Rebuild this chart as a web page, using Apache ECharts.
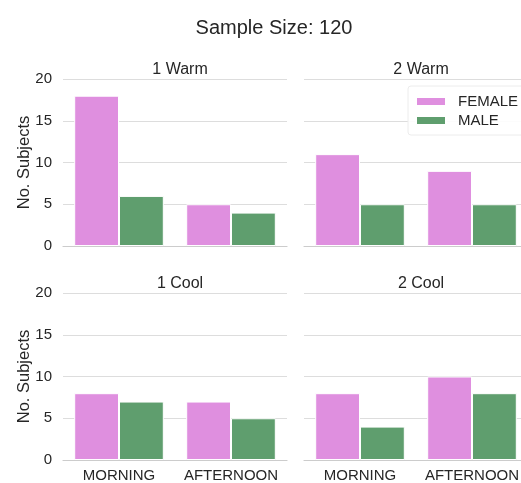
<!DOCTYPE html>
<html>
<head>
<meta charset="utf-8">
<script src="https://cdn.jsdelivr.net/npm/echarts@6/dist/echarts.min.js"></script>
<style>
html,body{margin:0;padding:0;background:#fff;}
#chart{width:521px;height:483px;}
</style>
</head>
<body>
<div id="chart"></div>
<script>
const categories = ['MORNING', 'AFTERNOON'];
const panels = ['1 Warm', '2 Warm', '1 Cool', '2 Cool'];
const female_1Warm = [18, 5];
const male_1Warm = [6, 4];
const female_2Warm = [11, 9];
const male_2Warm = [5, 5];
const female_1Cool = [8, 7];
const male_1Cool = [7, 5];
const female_2Cool = [8, 10];
const male_2Cool = [4, 8];
const yTicks = [0, 5, 10, 15, 20];

const femaleData = [female_1Warm, female_2Warm, female_1Cool, female_2Cool];
const maleData = [male_1Warm, male_2Warm, male_1Cool, male_2Cool];

const FONT = "'Liberation Sans', Arial, sans-serif";
const TXT = '#262626';
const PINK = '#df8fdf';
const GREEN = '#5f9e6e';

const gridPos = [
  {left: 63, top: 79}, {left: 304, top: 79},
  {left: 63, top: 293}, {left: 304, top: 293}
];
const W = 224, H = 167;

const chart = echarts.init(document.getElementById('chart'), null, {renderer: 'canvas'});

const grids = gridPos.map(p => ({left: p.left, top: p.top, width: W, height: H,
  containLabel: false, outerBoundsMode: 'none'}));
const xAxes = gridPos.map((p, i) => ({
  type: 'category', gridIndex: i, data: categories,
  axisTick: {show: false},
  axisLine: {show: true, lineStyle: {color: '#cccccc', width: 1.2}},
  axisLabel: {show: i >= 2, interval: 0, color: TXT, fontFamily: FONT, fontSize: 15, margin: 8}
}));
const yAxes = gridPos.map((p, i) => ({
  type: 'value', gridIndex: i, min: yTicks[0], max: yTicks[yTicks.length - 1], interval: 5,
  axisLine: {show: false}, axisTick: {show: false},
  splitLine: {show: true, lineStyle: {color: '#dddddd', width: 1}},
  axisLabel: {show: i % 2 === 0, color: TXT, fontFamily: FONT, fontSize: 15, margin: 11},
  name: i % 2 === 0 ? 'No. Subjects' : '',
  nameLocation: 'middle', nameGap: 30, nameMoveOverlap: false,
  nameTextStyle: {color: TXT, fontFamily: FONT, fontSize: 16.5}
}));

const series = [];
for (let i = 0; i < 4; i++) {
  series.push({
    name: 'FEMALE', type: 'bar', xAxisIndex: i, yAxisIndex: i, data: femaleData[i],
    barWidth: '40%', barGap: '0%',
    itemStyle: {color: PINK, borderColor: '#ffffff', borderWidth: 1},
    emphasis: {disabled: true}
  });
  series.push({
    name: 'MALE', type: 'bar', xAxisIndex: i, yAxisIndex: i, data: maleData[i],
    barWidth: '40%', barGap: '0%',
    itemStyle: {color: GREEN, borderColor: '#ffffff', borderWidth: 1},
    emphasis: {disabled: true}
  });
}

const titles = [{
  text: 'Sample Size: 120', left: 269, top: 13, textAlign: 'center',
  textStyle: {color: TXT, fontFamily: FONT, fontSize: 20, fontWeight: 'normal'}
}].concat(panels.map((t, i) => ({
  text: t, left: gridPos[i].left + W / 2, top: gridPos[i].top - 22, textAlign: 'center',
  textStyle: {color: TXT, fontFamily: FONT, fontSize: 16, fontWeight: 'normal'}
})));

chart.setOption({
  animation: false,
  backgroundColor: '#ffffff',
  title: titles,
  legend: {
    data: ['FEMALE', 'MALE'], orient: 'vertical', left: 408, top: 86,
    itemWidth: 30, itemHeight: 9, itemGap: 4,
    padding: [8, 16, 7, 7],
    backgroundColor: 'rgba(255,255,255,0.9)', borderColor: '#ececec', borderWidth: 1,
    borderRadius: 3,
    textStyle: {color: TXT, fontFamily: FONT, fontSize: 15, padding: [0, 0, 0, 7]},
    icon: 'rect', selectedMode: false
  },
  grid: grids, xAxis: xAxes, yAxis: yAxes, series: series
});
</script>
</body>
</html>
